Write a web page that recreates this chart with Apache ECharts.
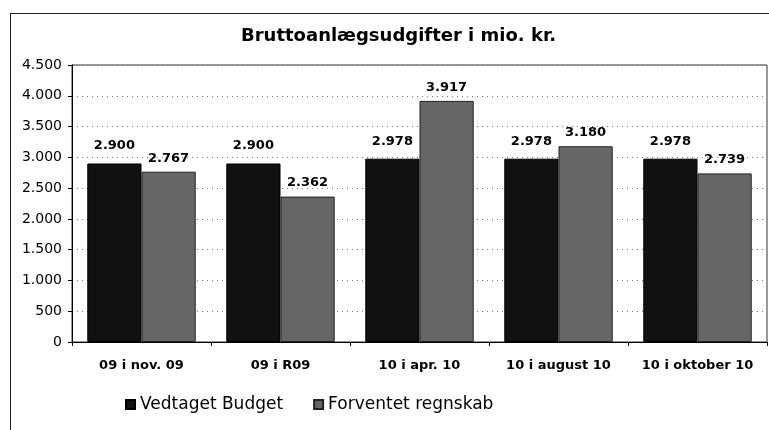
<!DOCTYPE html>
<html>
<head>
<meta charset="utf-8">
<script src="https://cdn.jsdelivr.net/npm/echarts@6/dist/echarts.min.js"></script>
<style>
  html, body { margin: 0; padding: 0; background: #fff; }
  #frame { position: absolute; left: 10px; top: 13px; width: 800px; height: 500px;
           border-left: 1px solid #222; border-top: 1px solid #222; }
  #graph { position: absolute; left: 0; top: 0; width: 769px; height: 430px; }
</style>
</head>
<body>
<div id="frame"></div>
<div id="graph"></div>
<script>
const categories = ["09 i nov. 09", "09 i R09", "10 i apr. 10", "10 i august 10", "10 i oktober 10"];
const vedtagetBudget = [2900, 2900, 2978, 2978, 2978];
const forventetRegnskab = [2767, 2362, 3917, 3180, 2739];
const yTicks = { min: 0, max: 4500, interval: 500 };

function fmt(v) {
  return String(v).replace(/\B(?=(\d{3})+(?!\d))/g, '.');
}

function createOptions() {
  const labelStyle = (dist) => ({
    show: true,
    position: 'top',
    distance: dist,
    color: '#000',
    fontFamily: 'DejaVu Sans',
    fontWeight: 'bold',
    fontSize: 13,
    formatter: (p) => fmt(p.value)
  });
  return {
    animation: false,
    title: {
      text: 'Bruttoanlægsudgifter i mio. kr.',
      left: 236,
      top: 22,
      textStyle: { fontFamily: 'DejaVu Sans', fontWeight: 'bold', fontSize: 18, color: '#000' }
    },
    legend: {
      data: ['Vedtaget Budget', 'Forventet regnskab'],
      left: 120,
      top: 391,
      itemWidth: 9,
      itemHeight: 9,
      itemGap: 30,
      icon: 'rect',
      textStyle: { fontFamily: 'DejaVu Sans', fontSize: 17, color: '#000' }
    },
    grid: {
      left: 72, right: 2, top: 65, bottom: 88,
      show: true, borderColor: '#333', borderWidth: 1
    },
    xAxis: {
      type: 'category',
      data: categories,
      axisLine: { lineStyle: { color: '#000' } },
      axisTick: { show: true, alignWithLabel: false, length: 4, lineStyle: { color: '#000' } },
      axisLabel: {
        interval: 0, hideOverlap: false,
        color: '#000', fontFamily: 'DejaVu Sans', fontWeight: 'bold', fontSize: 13, margin: 17
      }
    },
    yAxis: {
      type: 'value',
      min: yTicks.min,
      max: yTicks.max,
      interval: yTicks.interval,
      axisLine: { show: true, lineStyle: { color: '#000' } },
      axisTick: { show: true, length: 4, lineStyle: { color: '#000' } },
      axisLabel: { color: '#000', fontFamily: 'DejaVu Sans', fontSize: 14, margin: 10, formatter: fmt },
      splitLine: { lineStyle: { color: '#777', type: [1, 4], width: 1 } }
    },
    series: [
      {
        name: 'Vedtaget Budget',
        type: 'bar',
        data: vedtagetBudget,
        barGap: '0%',
        barCategoryGap: '22%',
        itemStyle: { color: '#111', borderColor: '#000', borderWidth: 1 },
        label: labelStyle(11)
      },
      {
        name: 'Forventet regnskab',
        type: 'bar',
        data: forventetRegnskab,
        itemStyle: { color: '#666', borderColor: '#222', borderWidth: 1 },
        label: labelStyle(7)
      }
    ]
  };
}

const myChart = echarts.init(document.getElementById('graph'));
myChart.setOption(createOptions());
</script>
</body>
</html>
